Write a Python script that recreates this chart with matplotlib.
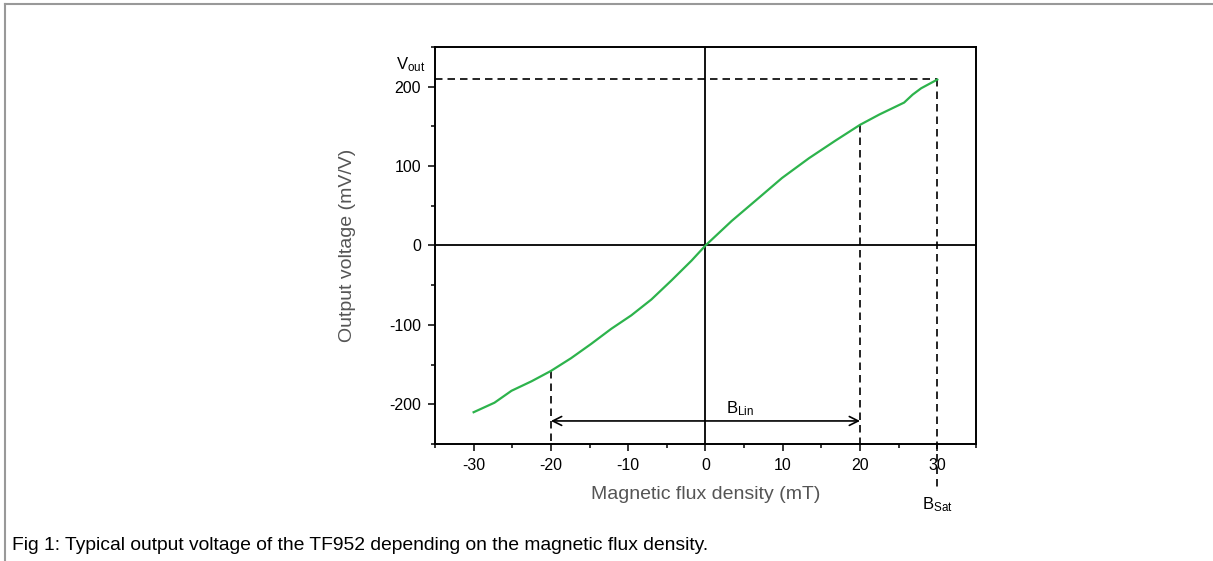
import matplotlib
matplotlib.use("Agg")
import matplotlib.pyplot as plt
from matplotlib.lines import Line2D
from matplotlib.ticker import MultipleLocator

plt.rcParams['font.family'] = ['Liberation Sans', 'DejaVu Sans']
plt.rcParams['mathtext.default'] = 'regular'
plt.rcParams['axes.unicode_minus'] = False

# curve (mT, mV/V)
flux = [-30, -27.3, -25.1, -22.5, -20, -17.4, -14.8, -12.2, -9.6, -7, -4.4, -1.8, 0,
        3.4, 6.9, 9.9, 13.4, 16.8, 20, 22.5, 25.7, 26.8, 27.9, 30]
vout = [-210, -198, -183, -171, -158, -142, -124, -105, -88, -68, -44, -19, 0,
        31, 60, 85, 110, 132, 152, 165, 180, 190, 198, 209]

b_lin = [-20, 20]
v_lin = [-158, 152]
b_sat = 30
v_sat = 210
arrow_y = -221

x_ticks = [-30, -20, -10, 0, 10, 20, 30]
y_ticks = [-200, -100, 0, 100, 200]

fig = plt.figure(figsize=(12.13, 5.61), dpi=100)
ax = fig.add_axes([0.3586, 0.2086, 0.4460, 0.7076])

ax.plot(flux, vout, color='#2db34c', lw=1.6, zorder=3)

ax.axhline(0, color='black', lw=1.3)
ax.axvline(0, color='black', lw=1.3)

dash = dict(color='black', lw=1.2, dashes=(4.5, 3))
ax.plot([-35, b_sat], [v_sat, v_sat], **dash)
ax.plot([b_sat, b_sat], [v_sat, -305], clip_on=False, **dash)
ax.plot([b_lin[0], b_lin[0]], [v_lin[0], -250], **dash)
ax.plot([b_lin[1], b_lin[1]], [v_lin[1], -250], **dash)

ax.annotate('', xy=(b_lin[0], arrow_y), xytext=(b_lin[1], arrow_y),
            arrowprops=dict(arrowstyle='<->', lw=1.2, color='black',
                            shrinkA=0, shrinkB=0, mutation_scale=16))
ax.text(4.5, -206, '$B_{Lin}$', fontsize=12, ha='center', va='center')
ax.text(b_sat, -326, '$B_{Sat}$', fontsize=12, ha='center', va='center')
ax.text(-38.2, 228, '$V_{out}$', fontsize=12, ha='center', va='center')

ax.set_xlim(-35, 35)
ax.set_ylim(-250, 250)
ax.set_xticks(x_ticks)
ax.set_yticks(y_ticks)
ax.xaxis.set_minor_locator(MultipleLocator(5))
ax.yaxis.set_minor_locator(MultipleLocator(50))
ax.tick_params(which='major', length=5, width=1.1, labelsize=11.5, pad=5)
ax.tick_params(which='minor', length=3, width=1.1)
for s in ax.spines.values():
    s.set_linewidth(1.4)

ax.set_xlabel('Magnetic flux density (mT)', fontsize=14, color='#555555')
ax.set_ylabel('Output voltage (mV/V)', fontsize=14, color='#555555')
ax.xaxis.set_label_coords(0.5, -0.105)
ax.yaxis.set_label_coords(-0.146, 0.5)

fig.text(12 / 1213, 1 - 545 / 561,
         'Fig 1: Typical output voltage of the TF952 depending on the magnetic flux density.',
         fontsize=13.85, va='center', ha='left')

# grey frame on top and left
fig.add_artist(Line2D([5 / 1213, 1], [1 - 3.5 / 561, 1 - 3.5 / 561], color='#999999', lw=1.5))
fig.add_artist(Line2D([5 / 1213, 5 / 1213], [0, 1 - 3.5 / 561], color='#999999', lw=1.5))

fig.savefig('out.png', dpi=100)
